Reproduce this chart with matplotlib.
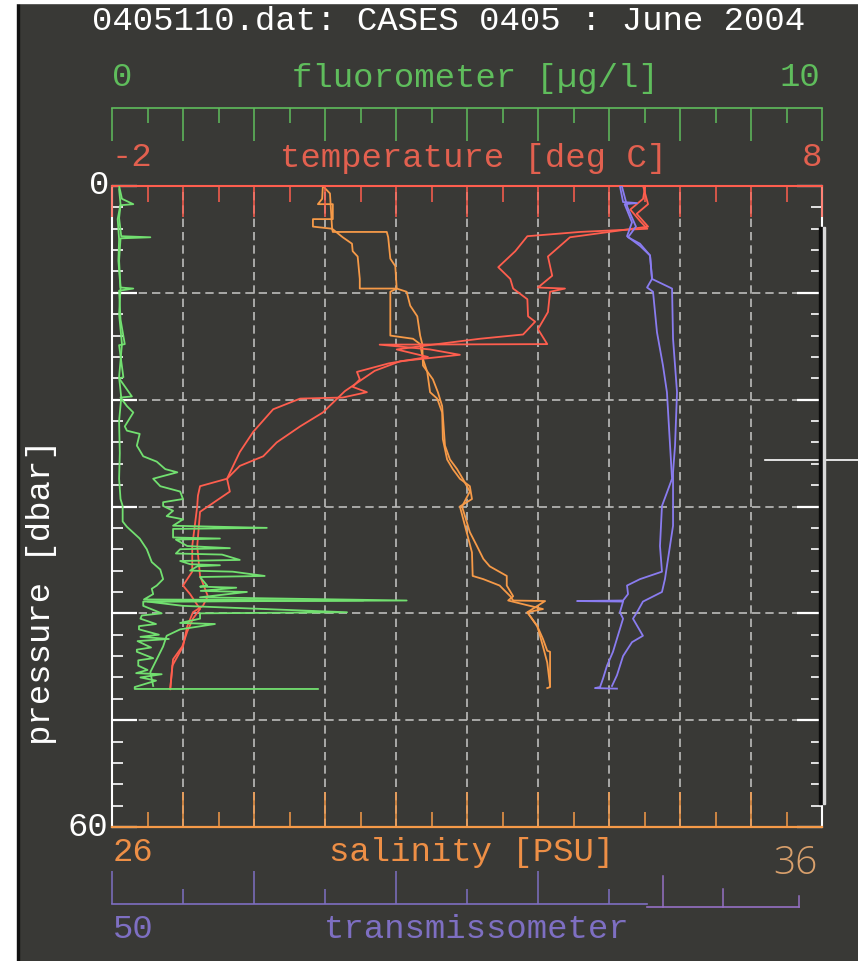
import matplotlib
matplotlib.use('Agg')
import matplotlib.pyplot as plt
from matplotlib.patches import Rectangle
from matplotlib.lines import Line2D
import matplotlib.transforms as mtransforms

plt.rcParams['font.family'] = ['Liberation Mono', 'DejaVu Sans Mono']

# ---------------------------------------------------------------
# CTD profile values (pressure in dbar)
# ---------------------------------------------------------------
temp_dn_p = [0.0, 1.2, 2.2, 3.3, 4.0, 4.3, 4.7, 6.1, 7.6, 8.7, 9.6, 10.6, 12.2, 12.7, 13.9, 14.3,
             14.7, 15.0, 15.3, 16.0, 16.6, 17.4, 18.1, 18.8, 19.3, 19.8, 19.9, 20.9, 23.0, 24.9,
             27.4, 28.1, 29.0, 30.0, 33.7, 36.1, 37.4, 38.2, 39.6, 40.5, 41.7, 43.1, 44.3, 47.1]
temp_dn_t = [5.51, 5.48, 5.30, 5.44, 5.54, 4.59, 3.85, 3.68, 3.44, 3.61, 3.65, 3.85, 3.86, 3.96, 3.79, 3.18,
             2.70, 2.34, 2.01, 2.45, 1.90, 1.45, 1.49, 1.39, 1.59, 1.25, 0.65, 0.27, -0.01, -0.20,
             -0.38, -0.76, -0.79, -0.80, -0.87, -0.87, -1.00, -0.90, -0.76, -0.86, -0.94, -1.01, -1.14, -1.18]
temp_up_p = [0.0, 1.7, 2.6, 3.8, 4.8, 6.6, 8.4, 9.5, 9.6, 9.9, 11.8, 13.4, 14.8, 14.85, 15.3, 15.8,
             16.4, 17.3, 19.2, 21.2, 22.5, 24.0, 25.3, 26.2, 27.4, 28.6, 30.5, 33.7, 36.5, 38.4,
             39.3, 39.9, 41.2, 43.1, 44.9, 47.1]
temp_up_t = [5.48, 5.55, 5.39, 5.55, 4.45, 4.14, 4.20, 4.00, 4.38, 4.17, 4.14, 4.00, 4.13, 1.77, 2.48, 2.90,
             2.06, 1.70, 1.28, 0.97, 0.65, 0.32, 0.13, -0.20, -0.38, -0.34, -0.76, -0.80, -0.76, -0.65,
             -0.72, -0.86, -0.94, -1.00, -1.15, -1.18]

sal_dn_p = [0.0, 1.2, 1.7, 1.7, 3.1, 3.1, 3.8, 4.0, 4.3, 4.3, 4.8, 6.8, 7.5, 9.6, 9.9, 14.0,
            14.3, 14.8, 16.2, 17.4, 19.3, 19.9, 21.2, 23.7, 25.6, 26.5, 27.4, 28.1, 29.3, 30.0,
            34.3, 36.5, 36.8, 37.4, 38.4, 38.8, 38.85, 39.9, 41.2, 42.4, 43.5, 43.6, 46.9, 47.0]
sal_dn_s = [28.97, 28.96, 28.90, 29.11, 29.11, 28.83, 28.83, 29.10, 29.11, 29.87, 29.89, 29.92, 29.99, 30.01, 29.92, 29.92,
            30.24, 30.34, 30.38, 30.44, 30.48, 30.58, 30.65, 30.66, 30.72, 30.80, 30.90, 31.04, 31.07, 30.90,
            31.07, 31.08, 31.23, 31.46, 31.61, 31.65, 32.10, 31.85, 31.99, 32.07, 32.13, 32.17, 32.17, 32.13]
sal_up_p = [0.0, 0.7, 4.0, 4.8, 5.4, 6.1, 6.6, 8.7, 9.6, 9.6, 9.9, 11.2, 12.2, 14.0, 14.8, 16.8,
            18.1, 19.3, 20.6, 24.3, 25.6, 26.5, 27.4, 28.6, 30.0, 32.4, 33.7, 34.9, 35.6, 36.5,
            37.4, 38.4, 38.8, 39.6, 39.9, 41.2, 43.1, 44.6, 46.8]
sal_up_s = [28.97, 29.07, 29.10, 29.25, 29.38, 29.39, 29.46, 29.49, 29.49, 30.01, 30.15, 30.20, 30.30, 30.34, 30.37, 30.38,
            30.52, 30.59, 30.65, 30.69, 30.76, 30.86, 30.94, 31.04, 30.93, 31.04, 31.14, 31.23, 31.32, 31.56,
            31.56, 31.65, 31.58, 32.07, 31.85, 31.99, 32.07, 32.13, 32.17]

fluo_dn_p = [0.3, 1.7, 3.1, 5.0, 7.0, 9.6, 12.0, 14.8, 17.9, 19.8, 22.0, 25.0, 27.4, 29.3, 29.95, 31.4,
             31.9, 33.0, 34.0, 35.2, 35.9, 36.8, 37.4, 37.7, 38.2, 38.7, 38.8, 38.9, 39.3, 40.0,
             40.2, 40.5, 41.0, 41.2, 41.5, 42.0, 42.2, 42.4, 42.6, 43.2, 43.4, 43.6, 44.2, 44.4,
             44.9, 45.3, 45.6, 45.7, 46.0, 46.3, 46.9, 47.08, 47.08]
fluo_dn_f = [0.10, 0.12, 0.08, 0.10, 0.09, 0.12, 0.10, 0.14, 0.10, 0.13, 0.10, 0.11, 0.10, 0.12, 0.15, 0.15,
             0.21, 0.39, 0.49, 0.56, 0.68, 0.72, 0.63, 0.56, 0.58, 0.45, 3.54, 0.44, 0.44, 0.70,
             0.42, 0.40, 0.62, 0.38, 0.38, 0.66, 0.40, 0.80, 0.36, 0.55, 0.35, 0.35, 0.58, 0.37,
             0.37, 0.50, 0.34, 0.70, 0.40, 0.62, 0.32, 0.32, 2.90]
fluo_up_p = [0.0, 1.2, 1.7, 1.8, 3.0, 4.7, 4.8, 4.9, 7.0, 9.5, 9.6, 9.8, 12.5, 14.8, 14.9, 17.9,
             18.0, 19.7, 19.8, 20.6, 21.2, 22.5, 22.9, 23.2, 24.3, 25.3, 25.8, 26.5, 26.8, 27.15,
             27.4, 28.1, 28.6, 29.3, 29.6, 29.95, 30.4, 30.9, 31.2, 31.8, 32.0, 32.1, 32.9, 33.0,
             33.1, 33.7, 33.9, 34.0, 34.4, 34.5, 35.0, 35.1, 35.4, 35.5, 35.6, 36.0, 36.1, 36.5,
             36.6, 37.4, 37.5, 37.6, 37.9, 38.0, 38.5, 38.8, 38.9, 39.3, 39.9, 40.0, 40.5, 40.9,
             41.0, 41.5, 42.1, 43.1, 44.3, 45.5, 46.8]
fluo_up_f = [0.10, 0.14, 0.30, 0.12, 0.10, 0.13, 0.54, 0.12, 0.10, 0.12, 0.30, 0.10, 0.12, 0.18, 0.10, 0.16,
             0.10, 0.28, 0.12, 0.21, 0.30, 0.18, 0.21, 0.39, 0.35, 0.44, 0.63, 0.75, 0.92, 0.72,
             0.58, 0.68, 0.96, 1.00, 0.72, 0.72, 0.86, 0.77, 1.00, 0.86, 2.18, 0.86, 0.86, 1.52,
             0.90, 1.06, 1.66, 0.96, 0.90, 1.55, 1.80, 0.96, 1.10, 1.52, 1.20, 1.10, 1.70, 2.15,
             1.24, 1.34, 1.24, 1.75, 1.25, 1.90, 1.24, 4.15, 0.50, 1.00, 3.31, 1.24, 1.24, 0.96,
             1.45, 0.96, 0.77, 0.72, 0.63, 0.54, 0.58]

trans_dn_p = [0.0, 1.5, 1.6, 1.7, 3.4, 4.7, 5.6, 6.5, 8.7, 9.5, 9.9, 11.8, 13.7, 16.8, 19.3, 24.3,
              27.4, 29.95, 33.7, 36.1, 36.8, 37.4, 38.2, 38.8, 38.85, 38.9, 39.9, 40.5, 43.6, 44.9,
              46.1, 46.9, 47.0, 47.05]
trans_dn_v = [85.77, 85.99, 86.97, 86.10, 86.62, 86.27, 87.18, 87.89, 88.03, 87.68, 88.10, 88.24, 88.38, 88.80, 89.08, 89.30,
              89.44, 88.73, 88.59, 88.73, 87.18, 86.27, 86.34, 85.99, 82.75, 85.99, 85.77, 85.99, 85.28, 84.86,
              84.58, 84.37, 84.01, 85.56]
trans_up_p = [0.0, 2.0, 3.8, 4.8, 5.4, 6.5, 8.7, 9.6, 14.3, 19.3, 24.3, 26.8, 29.3, 31.8, 36.8, 38.0,
              38.9, 39.9, 40.5, 42.1, 42.7, 44.0, 45.8, 46.8]
trans_up_v = [85.90, 86.30, 86.90, 86.34, 87.18, 87.89, 88.03, 89.44, 89.51, 89.79, 89.65, 89.51, 89.51, 89.51, 88.94, 88.73,
              87.39, 86.97, 86.69, 87.39, 86.62, 85.99, 85.56, 85.21]

W, H = 858, 962
BG = '#393936'
GREEN, GREEN_TXT = '#72e070', '#5fbd5c'
RED, RED_TXT = '#ff5e4e', '#e2604f'
ORANGE, ORANGE_TXT = '#f69a48', '#ee8f46'
PURPLE, PURPLE_TXT = '#8a7cf0', '#7e6fc2'
GRID = '#bdbdbb'
PT = 0.72  # points per pixel at 100 dpi
FS = 24.5
LW = 1.3


def fx(px):
    return px / W


def fy(py):
    return 1 - py / H


def ftext(x, y, s, **kw):
    kw.setdefault('ha', 'center')
    kw.setdefault('va', 'center')
    kw.setdefault('fontsize', FS)
    fig.text(fx(x), fy(y), s, **kw)


fig = plt.figure(figsize=(W / 100, H / 100), dpi=100)
fig.patch.set_facecolor(BG)

# scan margins
fig.patches.append(Rectangle((0, 0), fx(17), 1, transform=fig.transFigure, color='white', zorder=0))
fig.patches.append(Rectangle((fx(17), 0), fx(2), 1, transform=fig.transFigure, color='#111111', zorder=0))
fig.patches.append(Rectangle((0, fy(4)), 1, 4 / H, transform=fig.transFigure, color='white', zorder=0))

# -----------------------------------------------------------------
# Main profile axes (salinity on bottom, pressure on y)
# -----------------------------------------------------------------
ax = fig.add_axes([fx(112), fy(828), 710 / W, (828 - 187) / H])
ax.set_facecolor('none')
ax.set_xlim(26, 36)
ax.set_ylim(60, 0)
ax.set_xticks(range(26, 37))
ax.set_xticks([26.5 + i for i in range(10)], minor=True)
ax.set_yticks(range(0, 61, 10))
ax.set_yticks(range(0, 61, 2), minor=True)
ax.tick_params(axis='x', which='major', direction='in', length=35 * PT, width=1.1, color=ORANGE,
               labelbottom=False)
ax.tick_params(axis='x', which='minor', direction='in', length=15 * PT, width=1.1, color=ORANGE)
ax.tick_params(axis='y', which='major', direction='in', length=25 * PT, width=1.6, color='white',
               left=True, right=True, labelleft=False)
ax.tick_params(axis='y', which='minor', direction='in', length=11 * PT, width=1.2, color='white',
               left=True, right=True)
for side in ['left', 'right']:
    ax.spines[side].set_color('white')
    ax.spines[side].set_linewidth(1.5)
ax.spines['bottom'].set_color(ORANGE)
ax.spines['bottom'].set_linewidth(1.6)
ax.spines['top'].set_visible(False)

for gx in range(27, 36):
    ax.axvline(gx, color=GRID, lw=1.2, ls=(0, (5, 3)), zorder=0)
for gy in range(10, 60, 10):
    ax.axhline(gy, color=GRID, lw=1.2, ls=(0, (5, 3)), zorder=0)

ax.plot(sal_dn_s, sal_dn_p, color=ORANGE, lw=LW)
ax.plot(sal_up_s, sal_up_p, color=ORANGE, lw=LW)

# temperature on its own top scale
ax_t = ax.twiny()
ax_t.set_xlim(-2, 8)
ax_t.set_xticks(range(-2, 9))
ax_t.set_xticks([-1.5 + i for i in range(10)], minor=True)
ax_t.tick_params(axis='x', which='major', direction='in', length=31 * PT, width=1.1, color=RED,
                 labeltop=False)
ax_t.tick_params(axis='x', which='minor', direction='in', length=16 * PT, width=1.1, color=RED)
for side in ['left', 'right', 'bottom']:
    ax_t.spines[side].set_visible(False)
ax_t.spines['top'].set_color(RED)
ax_t.spines['top'].set_linewidth(1.5)
ax_t.plot(temp_dn_t, temp_dn_p, color=RED, lw=LW)
ax_t.plot(temp_up_t, temp_up_p, color=RED, lw=LW)

# fluorometer and transmissometer share the pressure axis
ax_f = ax.twiny()
ax_f.set_xlim(0, 10)
ax_f.axis('off')
ax_f.plot(fluo_dn_f, fluo_dn_p, color=GREEN, lw=LW)
ax_f.plot(fluo_up_f, fluo_up_p, color=GREEN, lw=LW)

ax_tr = ax.twiny()
ax_tr.set_xlim(50, 100)
ax_tr.axis('off')
ax_tr.plot(trans_dn_v, trans_dn_p, color=PURPLE, lw=LW)
ax_tr.plot(trans_up_v, trans_up_p, color=PURPLE, lw=LW)

# -----------------------------------------------------------------
# Detached scale bars
# -----------------------------------------------------------------
ax_fs = fig.add_axes([fx(112), fy(142), 710 / W, 33 / H])
ax_fs.set_facecolor('none')
ax_fs.set_xlim(0, 10)
ax_fs.xaxis.tick_top()
ax_fs.set_xticks(range(0, 11))
ax_fs.set_xticks([0.5 + i for i in range(10)], minor=True)
ax_fs.tick_params(axis='x', which='major', direction='in', length=33 * PT, width=1.1, color=GREEN_TXT,
                  labeltop=False)
ax_fs.tick_params(axis='x', which='minor', direction='in', length=15 * PT, width=1.1, color=GREEN_TXT)
ax_fs.set_yticks([])
for side in ['left', 'right', 'bottom']:
    ax_fs.spines[side].set_visible(False)
ax_fs.spines['top'].set_color(GREEN_TXT)
ax_fs.spines['top'].set_linewidth(1.2)

ax_ts = fig.add_axes([fx(112), fy(905), 710 / W, 33 / H])
ax_ts.set_facecolor('none')
ax_ts.set_xlim(50, 100)
ax_ts.set_xticks([50, 60, 70, 80])
ax_ts.set_xticks([55, 65, 75, 85], minor=True)
ax_ts.tick_params(axis='x', which='major', direction='in', length=33 * PT, width=1.1, color=PURPLE_TXT,
                  labelbottom=False)
ax_ts.tick_params(axis='x', which='minor', direction='in', length=15 * PT, width=1.1, color=PURPLE_TXT)
ax_ts.set_yticks([])
for side in ['left', 'right', 'top']:
    ax_ts.spines[side].set_visible(False)
ax_ts.spines['bottom'].set_color(PURPLE_TXT)
ax_ts.spines['bottom'].set_linewidth(1.2)
ax_ts.spines['bottom'].set_bounds(50, 87.7)
# the pasted piece at the right end of the transmissometer scale
blend = mtransforms.blended_transform_factory(ax_ts.transData, ax_ts.transAxes)
seg = '#9570c4'
ax_ts.add_line(Line2D([87.7, 98.4], [-0.09, -0.09], transform=blend, color=seg, lw=1.2, clip_on=False))
for tx, top in [(88.8, 0.85), (93.0, 0.45), (98.4, 0.25)]:
    ax_ts.add_line(Line2D([tx, tx], [-0.09, top], transform=blend, color=seg, lw=1.1, clip_on=False))

# -----------------------------------------------------------------
# Texts
# -----------------------------------------------------------------
ftext(92, 22, '0405110.dat: CASES 0405 : June 2004', color='white', ha='left')
ftext(122, 78, '0', color=GREEN_TXT)
ftext(475, 78, 'fluorometer [\u00b5g/l]', color=GREEN_TXT)
ftext(800, 78, '10', color=GREEN_TXT)
ftext(132, 158, '-2', color=RED_TXT)
ftext(474, 158, 'temperature [deg C]', color=RED_TXT)
ftext(812, 158, '8', color=RED_TXT)
ftext(99, 185, '0', color='white')
ftext(88, 828, '60', color='white')
ftext(42, 592, 'pressure [dbar]', color='white', rotation=90)
ftext(133, 853, '26', color=ORANGE_TXT)
ftext(472, 853, 'salinity [PSU]', color=ORANGE_TXT)
ftext(795, 864, '36', color='#d9a06c', fontsize=28, family='Open Sans', fontweight='light')
ftext(133, 930, '50', color=PURPLE_TXT)
ftext(477, 930, 'transmissometer', color=PURPLE_TXT)

# scan artefacts on the right edge
fig.patches.append(Rectangle((fx(819), fy(805)), 3 / W, (805 - 228) / H, transform=fig.transFigure,
                             color='#0c0c0c', zorder=5))
fig.patches.append(Rectangle((fx(823), fy(805)), 2 / W, (805 - 228) / H, transform=fig.transFigure,
                             color='#d8d8d8', zorder=5))
fig.lines.append(Line2D([fx(765), fx(818)], [fy(461), fy(461)], transform=fig.transFigure, color='white', lw=1.2))
fig.lines.append(Line2D([fx(826), 1], [fy(461), fy(461)], transform=fig.transFigure, color='white', lw=1.2))

fig.savefig('out.png', dpi=100, facecolor=fig.get_facecolor())
